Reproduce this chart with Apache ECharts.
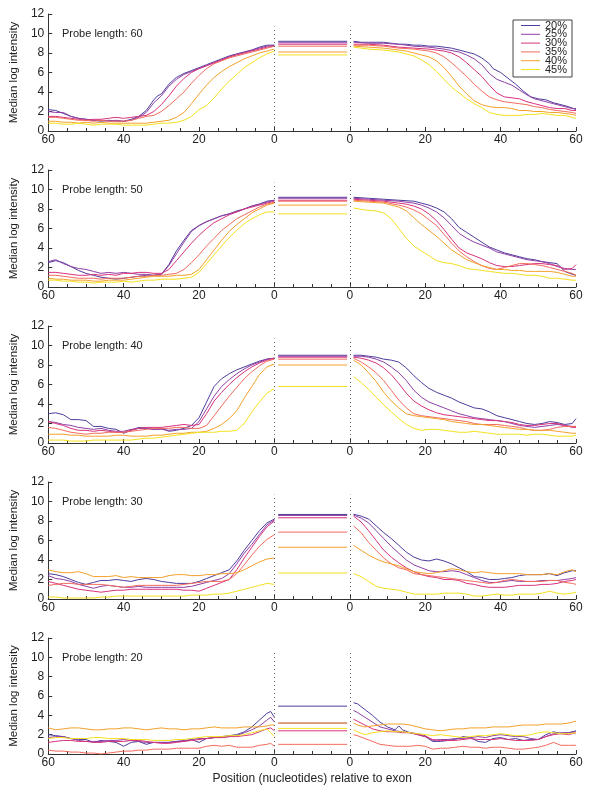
<!DOCTYPE html>
<html><head><meta charset="utf-8">
<script src="https://cdn.jsdelivr.net/npm/echarts@6/dist/echarts.min.js"></script>
<style>html,body{margin:0;padding:0;background:#fff}#c{width:600px;height:786px}</style>
</head><body><div id="c"></div>
<script>
const seriesNames = ['20%','25%','30%','35%','40%','45%'];
const colors = ['#4e3d9c','#8f3fa6','#d8327c','#f26b5c','#f3a12a','#f4e11e'];
const probeLengths = [60,50,40,30,20];

// ---- Probe length 60 ----
const L60 = [
[[60,2.2],[58,2.1],[56,1.8],[54,1.5],[52,1.3],[50,1.2],[48,1.1],[46,1.0],[44,1.1],[42,1.0],[40,1.0],[38,1.2],[36,1.5],[34,2.1],[32,3.2],[31,3.6],[30,3.8],[28,4.8],[26,5.5],[24,5.9],[22,6.2],[20,6.5],[18,6.8],[16,7.1],[14,7.4],[12,7.7],[10,7.9],[8,8.1],[6,8.3],[4,8.6],[2,8.8],[0,8.8]],
[[60,2.0],[58,1.9],[56,1.9],[54,1.5],[52,1.3],[50,1.2],[48,1.1],[46,1.1],[44,1.0],[42,1.1],[40,1.0],[38,1.1],[36,1.4],[34,1.9],[32,2.9],[30,3.6],[28,4.6],[26,5.3],[24,5.8],[22,6.1],[20,6.4],[18,6.7],[16,7.0],[14,7.3],[12,7.6],[10,7.9],[8,8.1],[6,8.3],[4,8.5],[2,8.7],[0,8.8]],
[[60,1.5],[58,1.5],[56,1.4],[54,1.3],[52,1.2],[50,1.1],[48,1.2],[46,1.2],[44,1.3],[42,1.4],[40,1.3],[38,1.4],[36,1.5],[34,1.6],[32,2.0],[30,2.7],[28,3.6],[26,4.6],[24,5.4],[22,6.0],[20,6.4],[18,6.7],[16,7.0],[14,7.3],[12,7.6],[10,7.8],[8,8.0],[6,8.2],[4,8.4],[2,8.6],[0,8.7]],
[[60,1.4],[58,1.4],[56,1.3],[54,1.2],[52,1.1],[50,1.1],[48,1.0],[46,1.1],[44,1.0],[42,1.0],[40,1.0],[38,1.1],[36,1.3],[34,1.5],[32,1.6],[30,2.0],[28,2.6],[26,3.3],[24,4.0],[22,4.9],[20,5.7],[18,6.4],[16,6.9],[14,7.2],[12,7.5],[10,7.7],[8,7.9],[6,8.1],[4,8.3],[2,8.5],[0,8.7]],
[[60,1.0],[58,1.0],[56,0.9],[54,0.9],[52,0.8],[50,0.9],[48,0.8],[46,0.9],[44,0.8],[42,0.8],[40,0.8],[38,0.8],[36,0.8],[34,0.8],[32,0.9],[30,1.0],[28,1.1],[26,1.4],[24,1.9],[22,2.8],[20,3.8],[18,4.7],[16,5.5],[14,6.1],[12,6.6],[10,7.0],[8,7.4],[6,7.7],[4,8.0],[2,8.2],[0,8.4]],
[[60,0.8],[58,0.8],[56,0.7],[54,0.7],[52,0.8],[50,0.7],[48,0.6],[46,0.7],[44,0.7],[42,0.7],[40,0.6],[38,0.6],[36,0.6],[34,0.6],[32,0.7],[30,0.8],[28,0.8],[26,0.9],[24,1.1],[22,1.5],[20,2.2],[18,2.6],[16,3.4],[14,4.3],[12,5.1],[10,5.8],[8,6.5],[6,7.0],[4,7.5],[2,7.9],[0,8.2]]
];
const M60 = [9.2, 9.05, 8.9, 8.7, 8.1, 7.8];
const R60 = [
[[1,9.2],[3,9.1],[5,9.1],[7,9.1],[9,9.1],[11,9.0],[13,8.9],[15,8.9],[17,8.8],[19,8.8],[21,8.7],[23,8.7],[25,8.6],[27,8.5],[29,8.3],[31,8.1],[33,7.9],[35,7.5],[37,6.9],[38,6.4],[40,6.0],[42,5.4],[44,4.8],[46,4.1],[48,3.5],[50,3.3],[52,3.2],[54,2.9],[56,2.7],[58,2.5],[60,2.2]],
[[1,9.1],[5,9.0],[9,9.0],[13,8.9],[17,8.7],[21,8.6],[25,8.4],[29,8.1],[31,7.8],[33,7.4],[35,6.8],[37,5.9],[39,5.3],[41,5.0],[43,4.7],[45,4.2],[47,3.7],[49,3.3],[51,3.1],[53,2.9],[55,2.7],[57,2.5],[59,2.3],[60,2.3]],
[[1,8.9],[5,8.9],[9,8.8],[13,8.6],[17,8.5],[21,8.4],[25,8.2],[27,8.0],[29,7.6],[31,7.0],[33,6.3],[35,5.6],[37,4.7],[39,3.9],[41,3.5],[43,3.4],[45,3.3],[47,3.0],[49,2.8],[51,2.6],[53,2.4],[55,2.3],[57,2.3],[59,2.1],[60,2.1]],
[[1,8.8],[5,8.8],[9,8.7],[13,8.5],[17,8.4],[21,8.2],[23,8.0],[25,7.6],[27,7.0],[29,6.3],[31,5.6],[33,4.8],[35,4.1],[37,3.5],[39,3.2],[41,3.0],[43,2.9],[45,2.8],[47,2.7],[49,2.5],[51,2.4],[53,2.2],[55,2.1],[57,2.0],[59,1.9],[60,1.8]],
[[1,8.7],[5,8.6],[9,8.5],[13,8.3],[15,8.2],[17,8.0],[19,7.8],[21,7.6],[23,7.2],[25,6.5],[27,5.6],[29,4.6],[31,3.8],[33,3.1],[35,2.7],[37,2.5],[39,2.4],[41,2.4],[43,2.3],[45,2.1],[47,2.1],[49,2.0],[51,2.0],[53,1.9],[55,1.9],[57,1.8],[59,1.7],[60,1.6]],
[[1,8.6],[5,8.4],[9,8.3],[13,8.1],[17,7.7],[19,7.3],[21,6.8],[23,6.1],[25,5.3],[27,4.5],[29,3.9],[31,3.3],[33,2.8],[35,2.4],[37,1.9],[39,1.7],[41,1.6],[43,1.6],[45,1.6],[47,1.7],[49,1.7],[51,1.8],[53,1.7],[55,1.6],[57,1.6],[59,1.4],[60,1.3]]
];

// ---- Probe length 50 ----
const L50 = [
[[60,2.5],[58,2.7],[56,2.5],[54,2.1],[52,1.7],[50,1.4],[48,1.2],[46,1.0],[44,0.9],[42,0.8],[40,0.9],[38,1.0],[36,1.1],[34,1.2],[32,1.2],[30,1.3],[28,2.3],[26,3.7],[24,4.8],[22,5.8],[20,6.3],[18,6.7],[16,7.0],[14,7.3],[12,7.5],[10,7.8],[8,8.0],[6,8.3],[4,8.5],[2,8.8],[0,8.9]],
[[60,2.6],[58,2.8],[56,2.4],[54,2.1],[52,1.9],[50,1.8],[48,1.6],[46,1.4],[44,1.5],[42,1.4],[40,1.5],[38,1.4],[36,1.3],[34,1.3],[32,1.2],[30,1.3],[28,2.2],[26,3.4],[24,4.6],[22,5.7],[20,6.3],[18,6.7],[16,7.0],[14,7.3],[12,7.5],[10,7.7],[8,8.0],[6,8.3],[4,8.5],[2,8.7],[0,8.9]],
[[60,1.5],[58,1.5],[56,1.4],[54,1.3],[52,1.2],[50,1.2],[48,1.3],[46,1.2],[44,1.3],[42,1.2],[40,1.4],[38,1.4],[36,1.5],[34,1.5],[32,1.4],[30,1.4],[28,1.8],[26,2.7],[24,3.6],[22,4.5],[20,5.3],[18,6.0],[16,6.6],[14,7.0],[12,7.4],[10,7.7],[8,8.0],[6,8.2],[4,8.4],[2,8.6],[0,8.8]],
[[60,1.2],[58,1.2],[56,1.1],[54,1.0],[52,0.9],[50,0.9],[48,0.9],[46,0.8],[44,0.9],[42,0.9],[40,0.9],[38,1.0],[36,1.1],[34,1.1],[32,1.2],[30,1.2],[28,1.3],[26,1.4],[24,1.8],[22,2.5],[20,3.3],[18,4.2],[16,5.0],[14,5.8],[12,6.4],[10,7.0],[8,7.4],[6,7.8],[4,8.2],[2,8.5],[0,8.7]],
[[60,0.9],[58,0.8],[56,0.8],[54,0.7],[52,0.7],[50,0.7],[48,0.6],[46,0.6],[44,0.7],[42,0.7],[40,0.7],[38,0.8],[36,0.9],[34,1.0],[32,1.1],[30,1.1],[28,1.1],[26,1.2],[24,1.2],[22,1.3],[20,1.8],[18,2.8],[16,3.8],[14,4.8],[12,5.7],[10,6.4],[8,7.0],[6,7.6],[4,8.0],[2,8.4],[0,8.6]],
[[60,0.7],[58,0.7],[56,0.6],[54,0.6],[52,0.5],[50,0.5],[48,0.4],[46,0.5],[44,0.5],[42,0.5],[40,0.6],[38,0.5],[36,0.6],[34,0.7],[32,0.7],[30,0.8],[28,0.8],[26,0.8],[24,0.9],[22,1.0],[20,1.5],[18,2.4],[16,3.3],[14,4.2],[12,5.1],[10,5.8],[8,6.5],[6,7.0],[4,7.4],[2,7.7],[0,7.7]]
];
const M50 = [9.2, 9.1, 8.9, 8.8, 8.4, 7.5];
const R50 = [
[[1,9.2],[5,9.1],[9,9.0],[13,8.9],[17,8.8],[19,8.6],[21,8.4],[23,8.1],[25,7.7],[27,7.0],[29,6.1],[31,5.6],[33,5.1],[35,4.6],[37,4.1],[39,3.8],[41,3.5],[43,3.3],[45,3.1],[47,2.9],[49,2.8],[51,2.6],[53,2.5],[55,2.4],[57,1.6],[59,1.3],[60,1.2]],
[[1,9.1],[5,9.0],[9,8.9],[13,8.8],[17,8.6],[19,8.4],[21,8.1],[23,7.7],[25,7.1],[27,6.3],[29,5.5],[31,5.0],[33,4.6],[35,4.3],[37,4.0],[39,3.6],[41,3.4],[43,3.2],[45,3.0],[47,2.8],[49,2.7],[51,2.6],[53,2.4],[55,2.1],[57,1.9],[59,1.8],[60,1.8]],
[[1,9.0],[5,8.9],[9,8.8],[13,8.6],[15,8.5],[17,8.3],[19,8.0],[21,7.5],[23,6.8],[25,5.9],[27,4.9],[29,4.0],[31,3.5],[33,3.2],[35,2.9],[37,2.5],[39,2.2],[41,2.1],[43,2.1],[45,2.2],[47,2.3],[49,2.4],[51,2.4],[53,2.3],[55,2.2],[57,1.8],[59,1.9],[60,2.3]],
[[1,8.9],[5,8.8],[9,8.7],[13,8.4],[15,8.2],[17,7.9],[19,7.5],[21,6.9],[23,6.3],[25,5.4],[27,4.5],[29,3.7],[31,3.1],[33,2.6],[35,2.2],[37,1.9],[39,1.8],[41,2.0],[43,2.2],[45,2.4],[47,2.4],[49,2.3],[51,2.2],[53,2.0],[55,1.8],[57,1.6],[59,1.4],[60,1.2]],
[[1,8.8],[5,8.7],[9,8.6],[11,8.4],[13,8.2],[15,7.8],[17,7.1],[19,6.4],[21,5.8],[23,5.2],[25,4.5],[27,3.8],[29,3.3],[31,2.8],[33,2.5],[35,2.2],[37,2.0],[39,1.8],[41,1.8],[43,1.7],[45,1.7],[47,1.6],[49,1.6],[51,1.6],[53,1.6],[55,1.5],[57,1.3],[59,1.1],[60,1.1]],
[[1,8.1],[4,7.9],[7,7.8],[9,7.6],[11,7.0],[13,6.0],[15,5.0],[17,4.2],[19,3.7],[21,3.2],[23,2.7],[25,2.5],[27,2.4],[29,2.2],[31,1.9],[33,1.8],[35,1.7],[37,1.6],[39,1.5],[41,1.4],[43,1.4],[45,1.3],[47,1.2],[49,1.2],[51,1.1],[53,0.9],[55,0.9],[57,0.8],[59,0.7],[60,0.7]]
];

// ---- Probe length 40 ----
const L40 = [
[[60,3.0],[58,3.1],[56,2.9],[54,2.4],[52,2.4],[50,2.3],[48,1.7],[46,1.7],[44,1.5],[42,1.4],[40,1.0],[38,1.3],[36,1.6],[34,1.5],[32,1.4],[30,1.5],[28,1.2],[26,1.3],[24,1.5],[22,1.8],[20,2.6],[18,4.2],[16,5.8],[14,6.6],[12,7.1],[10,7.5],[8,7.8],[6,8.1],[4,8.4],[2,8.6],[0,8.7]],
[[60,2.2],[58,2.1],[56,1.9],[54,1.8],[52,1.6],[50,1.5],[48,1.4],[46,1.5],[44,1.3],[42,1.2],[40,1.2],[38,1.4],[36,1.5],[34,1.5],[32,1.4],[30,1.4],[28,1.3],[26,1.4],[24,1.4],[22,1.5],[20,2.2],[18,3.5],[16,4.8],[14,5.8],[12,6.5],[10,7.1],[8,7.6],[6,8.0],[4,8.3],[2,8.6],[0,8.7]],
[[60,2.2],[58,2.0],[56,1.8],[54,1.5],[52,1.3],[50,1.3],[48,1.2],[46,1.3],[44,1.2],[42,1.1],[40,1.1],[38,1.3],[36,1.5],[34,1.6],[32,1.6],[30,1.6],[28,1.7],[26,1.8],[24,1.9],[22,1.8],[20,1.9],[18,3.0],[16,4.3],[14,5.2],[12,6.0],[10,6.7],[8,7.3],[6,7.8],[4,8.2],[2,8.5],[0,8.7]],
[[60,1.6],[58,1.5],[56,1.3],[54,1.1],[52,1.0],[50,0.9],[48,1.0],[46,1.0],[44,1.1],[42,1.1],[40,1.1],[38,1.2],[36,1.3],[34,1.4],[32,1.5],[30,1.5],[28,1.5],[26,1.6],[24,1.6],[22,1.5],[20,1.5],[18,1.8],[16,2.8],[14,3.8],[12,4.8],[10,5.7],[8,6.6],[6,7.3],[4,7.9],[2,8.4],[0,8.6]],
[[60,0.9],[58,0.9],[56,0.9],[54,0.8],[52,0.8],[50,0.7],[48,0.7],[46,0.7],[44,0.7],[42,0.8],[40,0.8],[38,0.7],[36,0.7],[34,0.7],[32,0.8],[30,0.8],[28,0.9],[26,1.0],[24,1.0],[22,1.1],[20,1.1],[18,1.2],[16,1.5],[14,1.9],[12,2.5],[10,3.3],[8,4.6],[6,5.8],[4,7.0],[2,7.8],[0,8.1]],
[[60,0.3],[58,0.3],[56,0.3],[54,0.2],[52,0.2],[50,0.2],[48,0.3],[46,0.3],[44,0.3],[42,0.3],[40,0.3],[38,0.3],[36,0.4],[34,0.5],[32,0.5],[30,0.6],[28,0.7],[26,0.8],[24,0.9],[22,1.0],[20,1.1],[18,1.1],[16,1.1],[14,1.2],[12,1.2],[10,1.3],[8,2.0],[6,3.2],[4,4.2],[2,5.1],[0,5.6]]
];
const M40 = [9.0, 8.9, 8.8, 8.6, 8.0, 5.8];
const R40 = [
[[1,9.0],[3,9.0],[5,8.9],[7,8.8],[9,8.6],[11,8.5],[13,8.3],[15,7.7],[17,6.9],[19,6.2],[21,5.6],[23,5.2],[25,4.9],[27,4.6],[29,4.2],[31,3.9],[33,3.6],[35,3.5],[37,3.2],[39,2.8],[41,2.6],[43,2.4],[45,2.2],[47,2.0],[49,1.9],[51,2.0],[53,2.2],[55,2.1],[57,1.9],[59,2.0],[60,2.5]],
[[1,8.9],[3,8.9],[5,8.8],[7,8.6],[9,8.3],[11,7.8],[13,7.2],[15,6.4],[17,5.4],[19,4.7],[21,4.2],[23,3.9],[25,3.6],[27,3.3],[29,3.0],[31,2.8],[33,2.6],[35,2.5],[37,2.4],[39,2.3],[41,2.2],[43,2.0],[45,1.8],[47,1.7],[49,1.6],[51,1.7],[53,1.8],[55,1.9],[57,1.8],[59,1.7],[60,1.7]],
[[1,8.8],[3,8.7],[5,8.5],[7,8.2],[9,7.7],[11,7.0],[13,6.1],[15,5.1],[17,4.3],[19,3.8],[21,3.4],[23,3.1],[25,2.9],[27,2.8],[29,2.7],[31,2.6],[33,2.5],[35,2.4],[37,2.3],[39,2.3],[41,2.2],[43,2.1],[45,1.9],[47,1.8],[49,1.8],[51,1.9],[53,2.0],[55,2.0],[57,1.8],[59,1.6],[60,1.6]],
[[1,8.7],[3,8.3],[5,7.8],[7,7.2],[9,6.4],[11,5.4],[13,4.4],[15,3.6],[17,3.0],[19,2.8],[21,2.7],[23,2.6],[25,2.5],[27,2.4],[29,2.3],[31,2.2],[33,2.0],[35,1.9],[37,1.9],[39,1.9],[41,1.8],[43,1.7],[45,1.6],[47,1.4],[49,1.3],[51,1.3],[53,1.4],[55,1.6],[57,1.7],[59,1.7],[60,1.7]],
[[1,8.5],[3,8.0],[5,7.2],[7,6.3],[9,5.2],[11,4.3],[13,3.6],[15,3.0],[17,2.8],[19,2.7],[21,2.6],[23,2.5],[25,2.4],[27,2.2],[29,2.1],[31,2.0],[33,1.9],[35,1.9],[37,1.8],[39,1.7],[41,1.6],[43,1.5],[45,1.4],[47,1.4],[49,1.3],[51,1.3],[53,1.3],[55,1.2],[57,1.1],[59,1.0],[60,1.0]],
[[1,6.8],[3,6.2],[5,5.5],[7,4.7],[9,3.9],[11,3.2],[13,2.5],[15,1.9],[17,1.5],[19,1.3],[21,1.4],[23,1.4],[25,1.3],[27,1.2],[29,1.1],[31,1.1],[33,1.2],[35,1.1],[37,1.0],[39,0.9],[41,0.9],[43,0.9],[45,0.9],[47,0.8],[49,0.9],[51,0.9],[53,0.8],[55,0.7],[57,0.7],[59,0.7],[60,0.8]]
];

// ---- Probe length 30 ----
const L30 = [
[[60,2.6],[58,2.5],[56,2.3],[54,2.0],[52,1.7],[50,1.5],[48,1.7],[46,1.9],[44,1.9],[42,2.0],[40,1.9],[38,1.8],[36,2.0],[34,2.1],[32,2.0],[30,1.8],[28,1.7],[26,1.6],[24,1.6],[22,1.6],[20,1.8],[18,2.1],[16,2.4],[14,2.7],[12,3.0],[10,3.9],[8,5.0],[6,6.0],[4,7.0],[2,7.8],[0,8.2]],
[[60,2.4],[58,2.1],[56,2.0],[54,1.8],[52,1.5],[50,1.3],[48,1.1],[46,1.3],[44,1.4],[42,1.3],[40,1.2],[38,1.2],[36,1.3],[34,1.2],[32,1.2],[30,1.2],[28,1.2],[26,1.2],[24,1.2],[22,1.3],[20,1.5],[18,1.7],[16,1.9],[14,2.1],[12,2.6],[10,3.6],[8,4.7],[6,5.6],[4,6.6],[2,7.6],[0,8.1]],
[[60,1.8],[58,1.6],[56,1.4],[54,1.2],[52,1.0],[50,0.9],[48,0.8],[46,0.7],[44,0.8],[42,0.9],[40,0.9],[38,1.0],[36,1.0],[34,1.0],[32,1.0],[30,1.0],[28,1.0],[26,1.0],[24,0.9],[22,0.9],[20,0.8],[18,1.1],[16,1.4],[14,1.7],[12,2.0],[10,3.0],[8,4.2],[6,5.3],[4,6.4],[2,7.4],[0,8.0]],
[[60,1.4],[58,1.5],[56,1.6],[54,1.6],[52,1.5],[50,1.5],[48,1.5],[46,1.5],[44,1.4],[42,1.3],[40,1.2],[38,1.3],[36,1.4],[34,1.4],[32,1.4],[30,1.4],[28,1.4],[26,1.4],[24,1.5],[22,1.6],[20,1.7],[18,1.8],[16,1.8],[14,1.8],[12,2.0],[10,2.6],[8,3.5],[6,4.5],[4,5.4],[2,6.1],[0,6.6]],
[[60,3.0],[58,2.8],[56,2.7],[54,2.7],[52,2.8],[50,2.6],[48,2.3],[46,2.3],[44,2.3],[42,2.4],[40,2.2],[38,2.3],[36,2.2],[34,2.2],[32,2.2],[30,2.2],[28,2.4],[26,2.5],[24,2.5],[22,2.4],[20,2.4],[18,2.5],[16,2.5],[14,2.6],[12,2.6],[10,2.7],[8,3.0],[6,3.4],[4,3.8],[2,4.1],[0,4.2]],
[[60,0.2],[58,0.2],[56,0.1],[54,0.1],[52,0.1],[50,0.1],[48,0.1],[46,0.2],[44,0.2],[42,0.3],[40,0.3],[38,0.3],[36,0.3],[34,0.3],[32,0.3],[30,0.3],[28,0.3],[26,0.3],[24,0.3],[22,0.4],[20,0.4],[18,0.4],[16,0.5],[14,0.5],[12,0.6],[10,0.8],[8,1.0],[6,1.2],[4,1.4],[2,1.6],[0,1.5]]
];
const M30 = [8.67, 8.57, 8.33, 6.86, 5.31, 2.67];
const R30 = [
[[1,8.7],[3,8.5],[5,8.2],[7,7.5],[9,6.8],[11,6.2],[13,5.5],[15,4.8],[17,4.3],[19,4.0],[21,3.9],[23,4.1],[25,3.9],[27,3.6],[29,3.2],[31,2.8],[33,2.3],[35,2.2],[37,2.0],[39,2.0],[41,2.1],[43,2.2],[45,2.4],[47,2.5],[49,2.5],[51,2.5],[53,2.6],[55,2.4],[57,2.7],[59,2.9],[60,2.9]],
[[1,8.6],[3,8.3],[5,7.8],[7,7.0],[9,6.2],[11,5.4],[13,4.7],[15,4.0],[17,3.5],[19,3.2],[21,2.9],[23,2.8],[25,2.8],[27,2.9],[29,2.8],[31,2.5],[33,2.2],[35,1.9],[37,1.7],[39,1.7],[41,1.8],[43,1.9],[45,1.8],[47,1.8],[49,1.8],[51,1.9],[53,1.9],[55,1.9],[57,2.0],[59,2.1],[60,2.2]],
[[1,8.5],[3,7.9],[5,7.0],[7,6.0],[9,5.0],[11,4.3],[13,3.7],[15,3.2],[17,2.8],[19,2.5],[21,2.3],[23,2.2],[25,2.0],[27,2.0],[29,1.9],[31,1.6],[33,1.5],[35,1.3],[37,1.2],[39,1.2],[41,1.2],[43,1.3],[45,1.4],[47,1.4],[49,1.4],[51,1.5],[53,1.5],[55,1.6],[57,1.8],[59,1.9],[60,2.0]],
[[1,7.5],[3,6.8],[5,5.8],[7,5.0],[9,4.2],[11,3.6],[13,3.2],[15,3.0],[17,2.6],[19,2.5],[21,2.4],[23,2.3],[25,2.2],[27,2.1],[29,2.0],[31,1.9],[33,1.8],[35,1.7],[37,1.6],[39,1.7],[41,1.9],[43,2.0],[45,1.9],[47,1.8],[49,1.8],[51,1.8],[53,1.9],[55,1.9],[57,1.7],[59,1.6],[60,1.5]],
[[1,5.5],[3,5.0],[5,4.5],[7,4.1],[9,3.8],[11,3.6],[13,3.4],[15,3.1],[17,2.8],[19,2.7],[21,2.6],[23,2.7],[25,2.9],[27,3.1],[29,3.0],[31,2.8],[33,2.7],[35,2.8],[37,2.7],[39,2.6],[41,2.6],[43,2.6],[45,2.6],[47,2.5],[49,2.5],[51,2.5],[53,2.6],[55,2.5],[57,2.8],[59,3.0],[60,2.8]],
[[1,2.6],[3,2.3],[5,1.8],[7,1.3],[9,1.1],[11,1.0],[13,0.9],[15,0.7],[17,0.5],[19,0.5],[21,0.5],[23,0.5],[25,0.6],[27,0.6],[29,0.6],[31,0.5],[33,0.3],[35,0.3],[37,0.4],[39,0.5],[41,0.4],[43,0.4],[45,0.5],[47,0.5],[49,0.5],[51,0.6],[53,0.8],[55,0.6],[57,0.5],[59,0.6],[60,0.7]]
];

// ---- Probe length 20 ----
const L20 = [
[[60,2.0],[58,1.9],[56,1.8],[54,1.6],[52,1.5],[50,1.5],[48,1.2],[46,1.4],[44,1.3],[42,1.2],[40,0.8],[38,1.2],[36,1.3],[34,1.0],[32,1.2],[30,1.2],[28,1.2],[26,1.3],[24,1.3],[22,1.5],[20,1.2],[18,1.6],[16,1.7],[14,1.8],[12,1.9],[10,2.0],[8,2.3],[6,2.8],[4,3.5],[2,4.2],[1,4.4],[0,3.8]],
[[60,1.7],[58,1.8],[56,1.8],[54,1.6],[52,1.4],[50,1.3],[48,1.3],[46,1.3],[44,1.4],[42,1.4],[40,1.5],[38,1.4],[36,1.3],[34,1.2],[32,1.2],[30,1.2],[28,1.2],[26,1.3],[24,1.4],[22,1.5],[20,1.6],[18,1.6],[16,1.7],[14,1.7],[12,1.8],[10,1.9],[8,2.2],[6,2.5],[4,2.9],[2,3.5],[1,3.8],[0,3.3]],
[[60,1.2],[58,1.3],[56,1.4],[54,1.4],[52,1.3],[50,1.3],[48,1.2],[46,1.2],[44,1.3],[42,1.3],[40,1.3],[38,1.4],[36,1.4],[34,1.3],[32,1.2],[30,1.1],[28,1.1],[26,1.2],[24,1.3],[22,1.4],[20,1.5],[18,1.6],[16,1.7],[14,1.7],[12,1.8],[10,1.8],[8,1.9],[6,2.0],[4,2.3],[2,2.6],[1,2.7],[0,2.4]],
[[60,0.4],[58,0.3],[56,0.3],[54,0.2],[52,0.2],[50,0.1],[48,0.1],[46,0.0],[44,0.1],[42,0.2],[40,0.3],[38,0.3],[36,0.4],[34,0.4],[32,0.5],[30,0.5],[28,0.5],[26,0.6],[24,0.6],[22,0.6],[20,0.6],[18,0.8],[16,0.9],[14,0.8],[12,0.9],[10,0.7],[8,0.7],[6,0.7],[4,0.9],[2,1.0],[1,1.1],[0,0.8]],
[[60,2.7],[58,2.5],[56,2.6],[54,2.7],[52,2.7],[50,2.6],[48,2.5],[46,2.5],[44,2.6],[42,2.6],[40,2.7],[38,2.7],[36,2.6],[34,2.5],[32,2.6],[30,2.7],[28,2.6],[26,2.6],[24,2.5],[22,2.6],[20,2.6],[18,2.7],[16,2.8],[14,2.7],[12,2.7],[10,2.7],[8,2.8],[6,2.8],[4,2.8],[2,2.9],[1,3.0],[0,3.0]],
[[60,1.6],[58,1.7],[56,1.7],[54,1.6],[52,1.6],[50,1.6],[48,1.7],[46,1.7],[44,1.6],[42,1.6],[40,1.6],[38,1.5],[36,1.5],[34,1.5],[32,1.4],[30,1.4],[28,1.4],[26,1.5],[24,1.5],[22,1.6],[20,1.7],[18,1.8],[16,1.8],[14,1.8],[12,1.9],[10,1.9],[8,2.0],[6,2.2],[4,2.4],[2,2.6],[1,2.2],[0,1.8]]
];
const M20 = [4.95, 3.2, 2.4, 1.0, 3.2, 2.65];
const R20 = [
[[1,5.3],[2,5.2],[4,4.6],[6,4.0],[8,3.3],[10,2.8],[12,2.5],[13,2.9],[14,2.5],[16,2.2],[18,2.0],[20,1.8],[22,1.3],[24,1.3],[26,1.4],[28,1.5],[30,1.8],[32,1.7],[34,1.3],[36,1.2],[38,1.6],[40,1.7],[42,1.5],[44,1.6],[46,1.4],[48,1.5],[50,1.5],[52,2.0],[54,2.3],[56,2.1],[58,2.2],[60,2.4]],
[[1,4.5],[2,4.3],[4,3.8],[6,3.3],[8,2.8],[10,2.6],[12,2.4],[14,2.3],[16,2.2],[18,2.1],[20,1.9],[22,1.4],[24,1.5],[26,1.5],[28,1.6],[30,1.6],[32,1.7],[34,1.8],[36,1.7],[38,1.9],[40,2.0],[42,1.9],[44,1.8],[46,1.8],[48,1.6],[50,1.5],[52,1.8],[54,2.1],[56,2.2],[58,2.2],[60,2.3]],
[[1,3.6],[2,3.4],[4,3.0],[6,2.6],[8,2.4],[10,2.3],[12,2.3],[14,2.2],[16,2.2],[18,2.0],[20,1.8],[22,1.5],[24,1.4],[26,1.4],[28,1.4],[30,1.5],[32,1.6],[34,1.5],[36,1.5],[38,1.5],[40,1.6],[42,1.5],[44,1.4],[46,1.4],[48,1.4],[50,1.5],[52,1.8],[54,2.0],[56,2.1],[58,2.0],[60,2.2]],
[[1,2.0],[2,1.9],[4,1.6],[6,1.3],[8,1.0],[10,0.9],[12,0.8],[14,0.8],[16,0.8],[18,0.9],[20,0.8],[22,0.5],[24,0.6],[26,0.6],[28,0.7],[30,0.8],[32,0.7],[34,0.7],[36,0.6],[38,0.7],[40,0.7],[42,0.6],[44,0.5],[46,0.5],[48,0.6],[50,0.7],[52,0.9],[54,1.2],[56,0.9],[58,0.9],[60,0.9]],
[[1,3.2],[2,3.0],[4,2.8],[6,2.9],[8,3.0],[10,3.1],[12,3.1],[14,3.1],[16,3.0],[18,2.8],[20,2.6],[22,2.5],[24,2.4],[26,2.5],[28,2.6],[30,2.6],[32,2.7],[34,2.7],[36,2.7],[38,2.8],[40,2.8],[42,2.8],[44,2.9],[46,3.0],[48,3.0],[50,3.0],[52,3.1],[54,3.1],[56,3.1],[58,3.2],[60,3.4]],
[[1,2.5],[2,2.3],[4,2.0],[6,2.2],[8,2.3],[10,2.4],[12,2.3],[14,2.3],[16,2.2],[18,2.1],[20,2.0],[22,1.9],[24,2.0],[26,1.9],[28,1.8],[30,1.7],[32,1.8],[34,1.9],[36,1.9],[38,2.0],[40,2.1],[42,2.0],[44,1.9],[46,1.9],[48,2.0],[50,2.2],[52,2.3],[54,2.2],[56,2.1],[58,2.1],[60,2.2]]
];

const panels = [[L60,M60,R60],[L50,M50,R50],[L40,M40,R40],[L30,M30,R30],[L20,M20,R20]];

const FONT = '"Liberation Sans", Arial, Helvetica, sans-serif';
const grids = [], xAxes = [], yAxes = [], series = [], titles = [];
panels.forEach((pd, i) => {
  const top = 14 + 156 * i;
  grids.push({left: 40.7, right: 24, top: top, height: 117});
  xAxes.push({
    type: 'value', gridIndex: i, min: 0, max: 140, interval: 20,
    axisLine: {lineStyle: {color: '#333', width: 1}},
    axisTick: {inside: true, length: 4, lineStyle: {color: '#333'}},
    minorTick: {show: true, splitNumber: 4, length: 3, lineStyle: {color: '#333'}},
    splitLine: {show: false}, minorSplitLine: {show: false},
    axisLabel: {formatter: v => v <= 60 ? String(60 - v) : (v >= 80 ? String(v - 80) : ''),
      color: '#222', fontSize: 12, margin: 3, fontFamily: FONT},
    name: i === 4 ? 'Position (nucleotides) relative to exon' : '',
    nameLocation: 'middle', nameGap: 19,
    nameTextStyle: {color: '#222', fontSize: 12, fontFamily: FONT}
  });
  yAxes.push({
    type: 'value', gridIndex: i, min: 0, max: 12, interval: 2,
    axisLine: {show: true, lineStyle: {color: '#333', width: 1}},
    axisTick: {show: true, inside: true, length: 4, lineStyle: {color: '#333'}},
    splitLine: {show: false},
    axisLabel: {color: '#222', fontSize: 12, margin: 4, fontFamily: FONT},
    name: 'Median log intensity', nameLocation: 'middle', nameGap: 20,
    nameTextStyle: {color: '#222', fontSize: 11.5, fontFamily: FONT}
  });
  titles.push({text: 'Probe length: ' + probeLengths[i], left: 62, top: top + 14.5, padding: 0,
    textStyle: {fontSize: 11, fontWeight: 'normal', color: '#222', fontFamily: FONT}});
  seriesNames.forEach((nm, s) => {
    const data = [];
    pd[0][s].forEach(([p, v]) => data.push([60 - p, v]));
    data.push([60.5, '-']);
    data.push([61, pd[1][s]], [79.3, pd[1][s]]);
    data.push([79.6, '-']);
    pd[2][s].forEach(([p, v]) => data.push([80 + p, v]));
    const ser = {type: 'line', name: nm, xAxisIndex: i, yAxisIndex: i, data: data,
      symbol: 'none', connectNulls: false, animation: false,
      lineStyle: {width: 1, color: colors[s]}, itemStyle: {color: colors[s]}};
    if (s === 0) {
      ser.markLine = {silent: true, symbol: 'none', animation: false, label: {show: false},
        lineStyle: {type: [1, 3], color: '#666', width: 1},
        data: [[{coord: [60, 0]}, {coord: [60, 10.7]}], [{coord: [80, 0]}, {coord: [80, 10.7]}]]};
    }
    series.push(ser);
  });
});

const chart = echarts.init(document.getElementById('c'), null, {renderer: 'canvas'});
chart.setOption({
  backgroundColor: '#fff',
  animation: false,
  title: titles,
  grid: grids, xAxis: xAxes, yAxis: yAxes, series: series,
  legend: {data: seriesNames, left: 513, top: 20, orient: 'vertical', icon: 'rect',
    itemWidth: 19, itemHeight: 1, itemGap: -2.2, padding: [0, 5, 2, 8],
    borderColor: '#444', borderWidth: 1, selectedMode: false,
    textStyle: {fontSize: 11, lineHeight: 9.3, color: '#222', fontFamily: FONT}}
});
</script></body></html>
